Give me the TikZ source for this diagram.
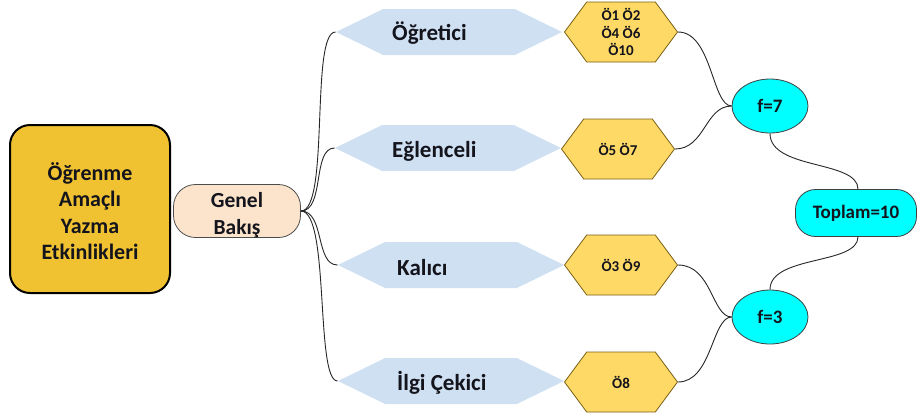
\documentclass[tikz,border=0pt]{standalone}
\usepackage{fontspec}
\setmainfont{Carlito}
\usetikzlibrary{shapes.geometric,shapes.symbols}
\definecolor{boxgold}{RGB}{240,194,50}
\definecolor{peach}{RGB}{252,228,204}
\definecolor{paleblue}{RGB}{207,224,242}
\definecolor{hexgold}{RGB}{255,217,102}
\definecolor{hexedge}{RGB}{120,95,20}
\definecolor{aqua}{RGB}{0,255,255}
\definecolor{ink}{RGB}{20,20,28}
\begin{document}
\begin{tikzpicture}[x=1pt,y=-1pt,
  every node/.style={font=\bfseries, text=ink},
  mainbox/.style={draw=black, line width=2pt, fill=boxgold, rounded corners=20pt,
    minimum width=160pt, minimum height=168pt, align=center,
    font=\fontsize{22}{26.5}\selectfont\bfseries},
  pill/.style={draw=black!70, line width=0.8pt, fill=peach, rounded corners=22pt,
    minimum width=127pt, minimum height=53pt, align=center, inner sep=0pt,
    text depth=0pt, font=\fontsize{21.5}{27}\selectfont\bfseries},
  category/.style={signal, signal to=west and east, signal pointer angle=52,
    fill=paleblue, minimum width=226pt, minimum height=46pt, inner sep=0pt},
  cattext/.style={anchor=west, inner sep=0pt, font=\fontsize{23}{26}\selectfont\bfseries},
  codes/.style={signal, signal to=west and east, signal pointer angle=107,
    draw=hexedge, line width=0.8pt, fill=hexgold, minimum width=113pt,
    minimum height=60pt, inner sep=0pt, align=center,
    font=\fontsize{15}{17.5}\selectfont\bfseries},
  freq/.style={ellipse, draw=black!75, line width=0.8pt, fill=aqua,
    minimum width=76pt, minimum height=54pt, inner sep=0pt,
    font=\fontsize{19}{20}\selectfont\bfseries},
  total/.style={draw=black!75, line width=0.8pt, fill=aqua, rounded corners=20pt,
    minimum width=121pt, minimum height=47pt, inner sep=0pt,
    font=\fontsize{19}{20}\selectfont\bfseries},
  conn/.style={draw=black!85, line width=0.9pt}
]
\useasboundingbox (0,0) rectangle (917,416);

% central topic and overview
\node[mainbox] (main) at (90,209) {\rule{0pt}{22pt}Öğrenme\\Amaçlı\\Yazma\\Etkinlikleri};
\node[pill] (gb) at (237,211) {\rule{0pt}{19pt}Genel\\Bakış};

% categories
\node[category] (c1) at (449,32) {};
\node[category] (c2) at (448,148) {};
\node[category] (c3) at (451,265) {};
\node[category] (c4) at (451,381) {};
\node[cattext] (t1) at (392,33) {Öğretici};
\node[cattext] (t2) at (392,151) {Eğlenceli};
\node[cattext] (t3) at (397,268) {Kalıcı};
\node[cattext] (t4) at (397,383) {İlgi Çekici};

% student codes
\node[codes] (k1) at (621,32) {Ö1 Ö2\\Ö4 Ö6\\Ö10};
\node[codes] (k2) at (618,149) {Ö5 Ö7};
\node[codes] (k3) at (621,265) {Ö3 Ö9};
\node[codes] (k4) at (621,382) {Ö8};

% frequencies and total
\node[freq] (f7) at (770,106) {f=7};
\node[freq] (f3) at (770,317) {f=3};
\node[total] (tot) at (856,213) {Toplam=10};

% overview to categories
\draw[conn] (gb.east) .. controls (330,211) and (310,32) .. (c1.west);
\draw[conn] (gb.east) .. controls (325,211) and (312,148) .. (c2.west);
\draw[conn] (gb.east) .. controls (325,211) and (315,265) .. (c3.west);
\draw[conn] (gb.east) .. controls (330,211) and (315,381) .. (c4.west);

% codes to frequencies
\draw[conn] (k1.east) .. controls (712,32) and (712,106) .. (f7.west);
\draw[conn] (k2.east) .. controls (705,149) and (705,106) .. (f7.west);
\draw[conn] (k3.east) .. controls (712,265) and (712,317) .. (f3.west);
\draw[conn] (k4.east) .. controls (712,382) and (712,317) .. (f3.west);

% frequencies to total
\draw[conn] (f7.south) .. controls (770,170) and (858,160) .. ([xshift=2pt]tot.north);
\draw[conn] ([xshift=2pt]tot.south) .. controls (858,265) and (770,255) .. (f3.north);
\end{tikzpicture}
\end{document}
